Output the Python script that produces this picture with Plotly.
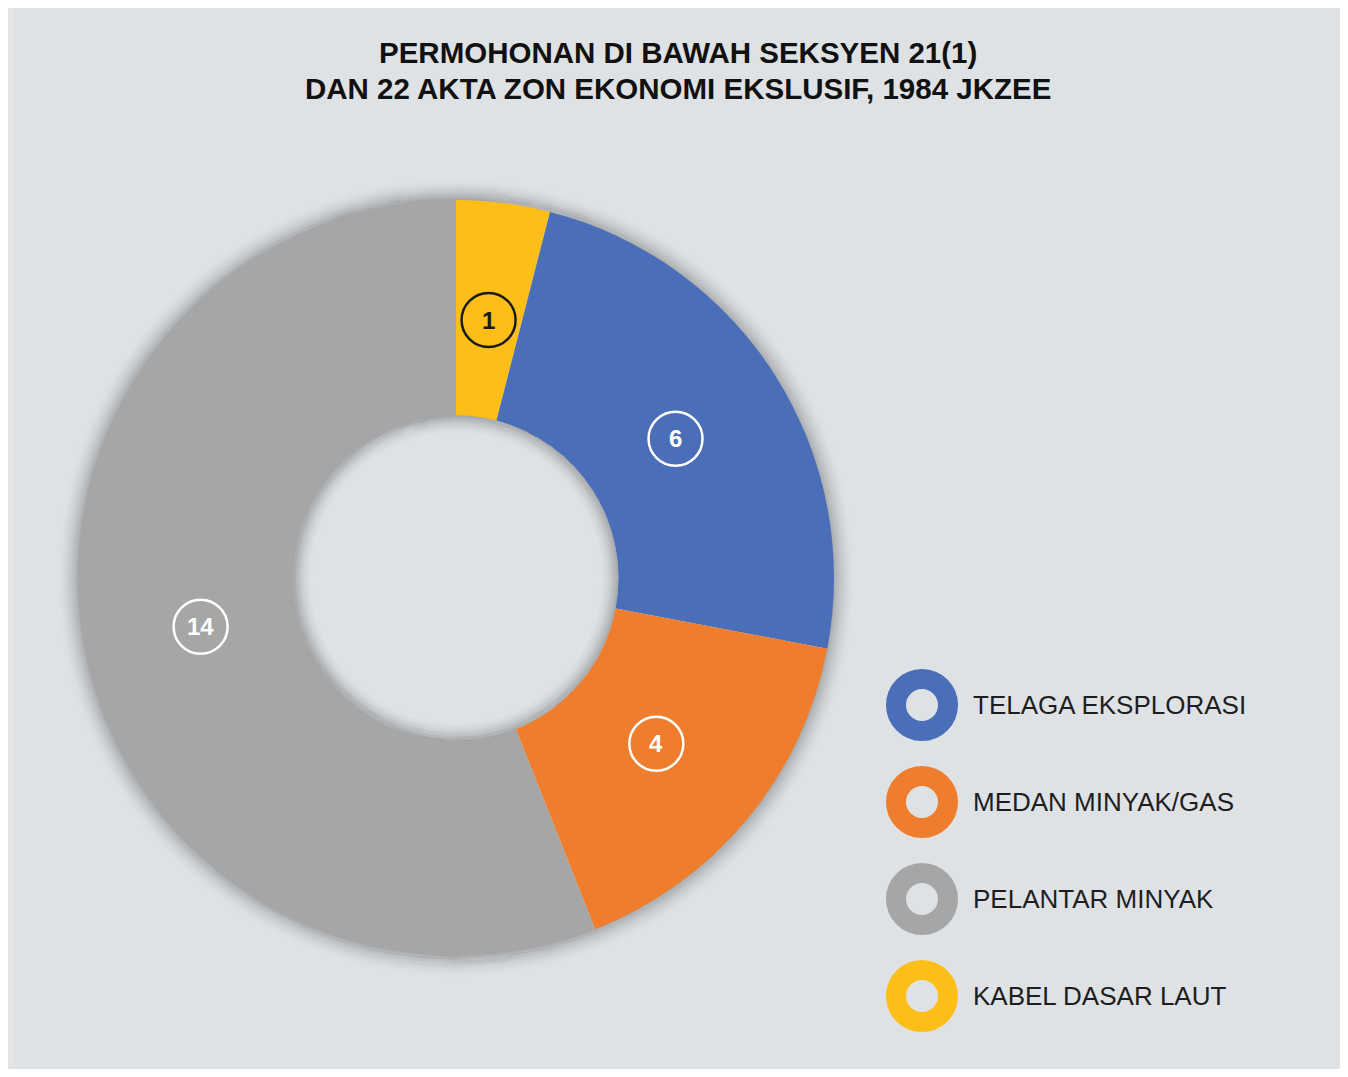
import math
import plotly.graph_objects as go

# data
categories = ["TELAGA EKSPLORASI", "MEDAN MINYAK/GAS", "PELANTAR MINYAK", "KABEL DASAR LAUT"]
counts = [6, 4, 14, 1]
colors = ["#4A6FB8", "#EE7D2E", "#A6A6A6", "#FDBF17"]
slice_order = [3, 0, 1, 2]   # clockwise from 12 o'clock
label_ink = ["white", "white", "white", "#1a1a1a"]

TITLE_LINES = ["PERMOHONAN DI BAWAH SEKSYEN 21(1)",
               "DAN 22 AKTA ZON EKONOMI EKSLUSIF, 1984 JKZEE"]

# page is 1348x1077, the html body adds an 8px margin
W, H, OFF = 1348, 1077, 8
FW, FH = W - 2 * OFF, H - 2 * OFF
PANEL = "#DFE2E5"
CX, CY, R_OUT, HOLE = 456, 578, 378, 0.43
R_IN = R_OUT * HOLE
FONT = "Liberation Sans, Arial, sans-serif"

fig = go.Figure()

fig.add_trace(go.Pie(
    labels=[categories[i] for i in slice_order],
    values=[counts[i] for i in slice_order],
    marker=dict(colors=[colors[i] for i in slice_order], line=dict(width=0)),
    hole=HOLE, sort=False, direction="clockwise", rotation=0,
    textinfo="none", showlegend=False, hoverinfo="label+value",
    domain=dict(x=[(CX - R_OUT - OFF) / FW, (CX + R_OUT - OFF) / FW],
                y=[1 - (CY + R_OUT - OFF) / FH, 1 - (CY - R_OUT - OFF) / FH]),
))

shapes = [dict(type="rect", xref="x", yref="y", x0=14, x1=W - 3, y0=5, y1=H - 2,
               fillcolor=PANEL, line=dict(width=0), layer="below")]

# soft shadow round the ring
N = 24
for k in range(N):
    r = R_OUT - 0.5 + k * 1.0
    shapes.append(dict(type="circle", xref="x", yref="y", layer="below",
                       x0=CX - r, x1=CX + r, y0=CY - r, y1=CY + r,
                       line=dict(color="rgba(0,0,0,%.3f)" % (0.2 * (1 - k / N) ** 2), width=1.3)))

# inner shadow in the hole
N = 20
for k in range(N):
    r = R_IN - 0.5 - k * 1.0
    shapes.append(dict(type="circle", xref="x", yref="y", layer="above",
                       x0=CX - r, x1=CX + r, y0=CY - r, y1=CY + r,
                       line=dict(color="rgba(0,0,0,%.3f)" % (0.22 * (1 - k / N) ** 2), width=1.2)))

# value labels in circles, at the middle angle of each slice
annotations = []
total = sum(counts)
acc = 0
r_lab = 260
for i in slice_order:
    mid = (acc + counts[i] / 2) / total * 2 * math.pi
    acc += counts[i]
    lx = CX + r_lab * math.sin(mid)
    ly = CY - r_lab * math.cos(mid)
    shapes.append(dict(type="circle", xref="x", yref="y", layer="above",
                       x0=lx - 27, x1=lx + 27, y0=ly - 27, y1=ly + 27,
                       line=dict(color=label_ink[i], width=2.5)))
    annotations.append(dict(x=lx, y=ly, xref="x", yref="y", text="<b>%d</b>" % counts[i],
                            showarrow=False, font=dict(family=FONT, size=24, color=label_ink[i])))

# custom legend with ring markers
leg_x, leg_y0, leg_dy = 922, 705, 97
fig.add_trace(go.Scatter(
    x=[leg_x] * len(categories),
    y=[leg_y0 + j * leg_dy for j in range(len(categories))],
    mode="markers", hoverinfo="skip", showlegend=False,
    marker=dict(symbol="circle", size=52, color=PANEL,
                line=dict(color=colors, width=20)),
))
for j, name in enumerate(categories):
    annotations.append(dict(x=leg_x + 49, y=leg_y0 + j * leg_dy, xref="x", yref="y",
                            text=name, showarrow=False, xanchor="left", yanchor="middle",
                            font=dict(family=FONT, size=26, color="#1e1e1e")))

# title, two lines
for j, line in enumerate(TITLE_LINES):
    annotations.append(dict(x=678, y=52 + j * 36, xref="x", yref="y", text="<b>%s</b>" % line,
                            showarrow=False, xanchor="center", yanchor="middle",
                            font=dict(family=FONT, size=29.5, color="#111111")))

fig.update_layout(
    width=FW, height=FH,
    margin=dict(l=0, r=0, t=0, b=0),
    paper_bgcolor="#E4E4E4",
    plot_bgcolor="rgba(0,0,0,0)",
    xaxis=dict(range=[OFF, W - OFF], visible=False, domain=[0, 1], fixedrange=True),
    yaxis=dict(range=[H - OFF, OFF], visible=False, domain=[0, 1], fixedrange=True),
    shapes=shapes,
    annotations=annotations,
    showlegend=False,
)

fig.write_html("out.html")
